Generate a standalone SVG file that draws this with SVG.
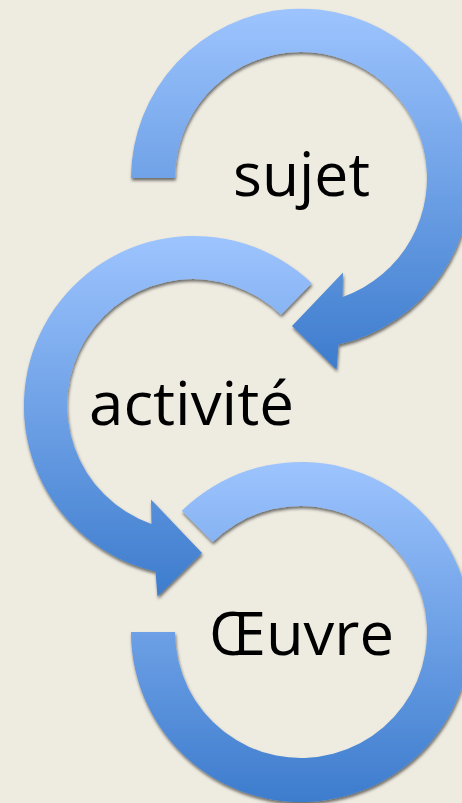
<svg xmlns="http://www.w3.org/2000/svg" width="462" height="803" viewBox="0 0 462 803">
  <defs>
    <linearGradient id="blue" x1="0" y1="0" x2="0" y2="1">
      <stop offset="0" stop-color="#9DC4FE"/>
      <stop offset="1" stop-color="#3D7CCD"/>
    </linearGradient>
    <filter id="shadow" x="-10%" y="-10%" width="120%" height="120%">
      <feDropShadow dx="0.8" dy="2.5" stdDeviation="1.8" flood-color="#000" flood-opacity="0.55"/>
    </filter>
  </defs>
  <style>
    .arc { fill: url(#blue); filter: url(#shadow); }
    .label { font-family: "Open Sans", "Noto Sans", "DejaVu Sans", sans-serif; font-size: 60px; fill: #000; }
  </style>
  <rect x="0" y="0" width="462" height="803" fill="#EEEBE1"/>

  <g id="sujet">
    <path class="arc" d="M 131 178 A 170 170 0 1 1 338.5 344.5 L 336.5 369.5 L 292 326 L 343 272.5 L 342.5 297 A 126 126 0 1 0 175 178 Z"/>
    <text class="label" x="233" y="196" textLength="137" lengthAdjust="spacingAndGlyphs">sujet</text>
  </g>

  <g id="activite">
    <path class="arc" d="M 311.7 283.3 A 170 170 0 1 0 155.5 571.5 L 157.5 596.5 L 202 553 L 151 499.5 L 151.5 524 A 126 126 0 1 1 281 314.8 Z"/>
    <text class="label" x="89" y="425" textLength="205" lengthAdjust="spacingAndGlyphs">activité</text>
  </g>

  <g id="oeuvre">
    <path class="arc" d="M 181.8 510.8 A 170 170 0 1 1 131 632 L 175 632 A 126 126 0 1 0 212.7 542.1 Z"/>
    <text class="label" x="209" y="655" textLength="185" lengthAdjust="spacingAndGlyphs">Œuvre</text>
  </g>

  <g id="connectors"></g>
</svg>
